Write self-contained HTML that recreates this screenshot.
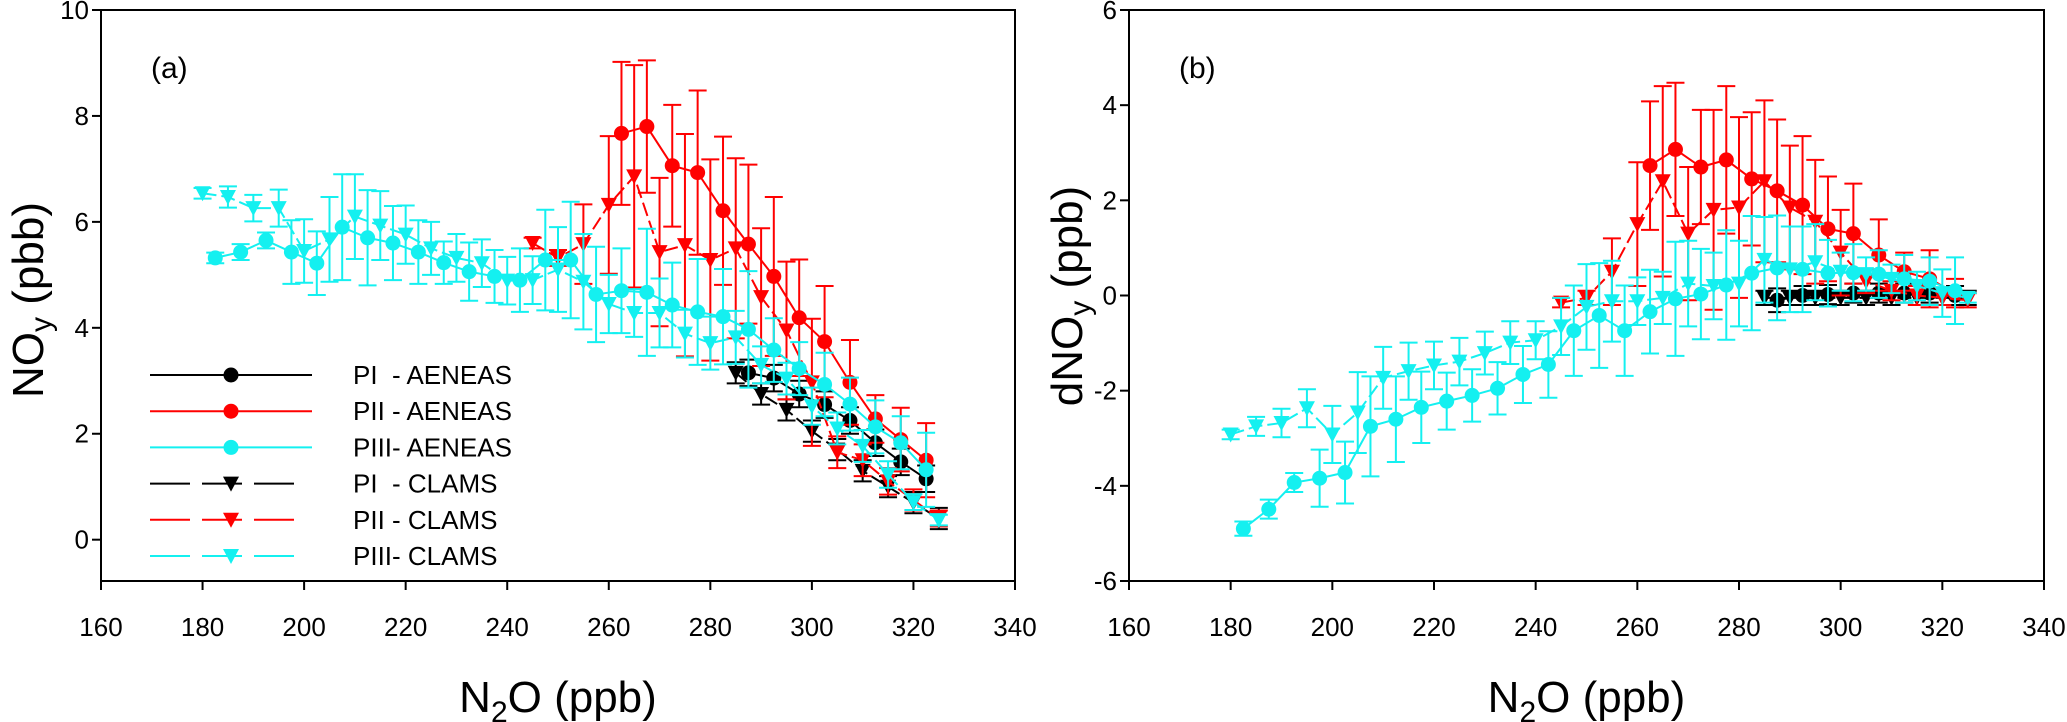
<!DOCTYPE html>
<html><head><meta charset="utf-8"><style>
html,body{margin:0;padding:0;background:#fff;}
svg{display:block;font-family:"Liberation Sans",Arial,sans-serif;}
</style></head><body>
<svg id="chart" width="2067" height="722" viewBox="0 0 2067 722" xmlns="http://www.w3.org/2000/svg"></svg>
<script>
// ---------- data ----------
const xTicks=[160,180,200,220,240,260,280,300,320,340];
const yTicksA=[0,2,4,6,8,10];
const yTicksB=[-6,-4,-2,0,2,4,6];
// panel a
const a_p3a_x=[182.5,187.5,192.5,197.5,202.5,207.5,212.5,217.5,222.5,227.5,232.5,237.5,242.5,247.5,252.5,257.5,262.5,267.5,272.5,277.5,282.5,287.5,292.5,297.5,302.5,307.5,312.5,317.5,322.5];
const a_p3a_y=[5.32,5.43,5.65,5.43,5.22,5.9,5.7,5.6,5.43,5.23,5.06,4.97,4.9,5.28,5.28,4.63,4.7,4.67,4.43,4.3,4.21,3.97,3.58,3.23,2.93,2.56,2.13,1.83,1.32];
const a_p3a_e=[0.1,0.15,0.15,0.6,0.6,1.0,0.9,0.7,0.6,0.4,0.55,0.5,0.6,0.95,1.1,0.9,0.8,1.2,0.8,1.0,0.9,1.1,0.6,0.5,0.6,0.5,0.5,0.5,0.7];
const a_p3c_x=[180,185,190,195,200,205,210,215,220,225,230,235,240,245,250,255,260,265,270,275,280,285,290,295,300,305,310,315,320,325];
const a_p3c_y=[6.54,6.47,6.26,6.26,5.45,5.67,6.1,5.93,5.76,5.5,5.32,5.22,4.89,4.9,5.1,4.87,4.45,4.28,4.28,3.89,3.71,3.82,3.3,3.04,2.52,2.1,1.77,1.23,0.71,0.37];
const a_p3c_e=[0.1,0.2,0.25,0.35,0.6,0.8,0.8,0.65,0.55,0.5,0.45,0.45,0.45,0.45,0.8,0.9,0.55,0.45,0.65,0.45,0.5,0.5,0.35,0.3,0.35,0.3,0.3,0.25,0.15,0.1];
const a_p2a_x=[262.5,267.5,272.5,277.5,282.5,287.5,292.5,297.5,302.5,307.5,312.5,317.5,322.5];
const a_p2a_y=[7.67,7.8,7.06,6.93,6.21,5.58,4.97,4.19,3.74,2.97,2.28,1.89,1.5];
const a_p2a_e=[1.35,1.25,1.15,1.55,1.4,1.5,1.5,1.1,1.05,0.8,0.45,0.6,0.7];
const a_p2c_x=[245,250,255,260,265,270,275,280,285,290,295,300,305,310,315,320,325];
const a_p2c_y=[5.6,5.32,5.58,6.32,6.86,5.43,5.56,5.28,5.5,4.58,3.95,2.97,1.65,1.5,1.1,0.75,0.4];
const a_p2c_e=[0.1,0.15,0.75,1.3,2.1,1.4,2.1,1.9,1.7,1.3,1.3,1.2,0.3,0.3,0.25,0.2,0.15];
const a_p1a_x=[287.5,292.5,297.5,302.5,307.5,312.5,317.5,322.5];
const a_p1a_y=[3.15,3.05,2.75,2.55,2.25,1.83,1.47,1.15];
const a_p1a_e=[0.25,0.25,0.25,0.25,0.25,0.25,0.25,0.25];
const a_p1c_x=[285,290,295,300,305,310,315,320,325];
const a_p1c_y=[3.15,2.75,2.45,2.05,1.7,1.3,1.0,0.7,0.4];
const a_p1c_e=[0.2,0.2,0.2,0.2,0.2,0.2,0.2,0.2,0.2];
// panel b
const b_p3a_x=a_p3a_x;
const b_p3a_y=[-4.9,-4.49,-3.93,-3.84,-3.72,-2.75,-2.6,-2.35,-2.22,-2.1,-1.95,-1.66,-1.45,-0.74,-0.42,-0.74,-0.34,-0.07,0.03,0.22,0.47,0.58,0.55,0.47,0.48,0.45,0.35,0.3,0.1];
const b_p3a_e=[0.15,0.2,0.2,0.6,0.65,1.05,0.9,0.75,0.6,0.55,0.55,0.6,0.7,0.95,1.1,0.95,0.88,1.2,0.95,1.15,1.2,1.1,0.9,0.7,0.6,0.5,0.5,0.5,0.7];
const b_p3c_x=a_p3c_x;
const b_p3c_y=[-2.92,-2.75,-2.68,-2.37,-2.92,-2.46,-1.73,-1.59,-1.47,-1.39,-1.21,-0.99,-0.94,-0.65,-0.24,-0.12,-0.12,-0.05,0.25,0.2,0.25,0.75,0.55,0.7,0.5,0.45,0.35,0.2,0.05,-0.05];
const b_p3c_e=[0.1,0.2,0.3,0.4,0.6,0.85,0.65,0.6,0.5,0.5,0.45,0.45,0.4,0.6,0.9,0.85,0.5,0.55,0.9,0.7,0.9,0.9,0.9,0.8,0.4,0.35,0.3,0.3,0.5,0.1];
const b_p2a_x=a_p2a_x;
const b_p2a_y=[2.73,3.07,2.7,2.85,2.45,2.2,1.9,1.4,1.3,0.85,0.5,0.35,0.05];
const b_p2a_e=[1.35,1.4,1.2,1.55,1.4,1.5,1.45,1.1,1.05,0.75,0.4,0.6,0.3];
const b_p2c_x=a_p2c_x;
const b_p2c_y=[-0.15,-0.05,0.5,1.5,2.4,1.3,1.8,1.85,2.4,1.85,1.55,0.9,0.3,0.1,0.0,-0.05,-0.1];
const b_p2c_e=[0.1,0.15,0.7,1.3,2.0,1.4,2.1,1.9,1.7,1.3,1.3,0.9,0.25,0.2,0.2,0.15,0.15];
const b_p1a_x=a_p1a_x;
const b_p1a_y=[-0.1,0.0,0.02,0.05,0.05,0.05,0.05,0.0];
const b_p1a_e=[0.25,0.2,0.2,0.2,0.2,0.2,0.2,0.2];
const b_p1c_x=a_p1c_x;
const b_p1c_y=[-0.05,-0.05,-0.05,-0.05,-0.05,-0.05,-0.05,-0.05,-0.05];
const b_p1c_e=[0.15,0.15,0.15,0.15,0.15,0.15,0.15,0.15,0.15];

const legendLabels=["PI  - AENEAS","PII - AENEAS","PIII- AENEAS","PI  - CLAMS","PII - CLAMS","PIII- CLAMS"];
const CY="#14f0f0", RD="#ff0000", BK="#000000";

const NS="http://www.w3.org/2000/svg";
const svg=document.getElementById('chart');
function mk(tag,attrs,parent){const e=document.createElementNS(NS,tag);for(const k in attrs)e.setAttribute(k,attrs[k]);(parent||svg).appendChild(e);return e;}

function panel(cfg){
  const g=mk('g',{});
  
  
  const L=cfg.left,R=cfg.right,T=10,B=581;
  const sx=v=>L+(v-160)/(340-160)*(R-L);
  const sy=v=>T+(cfg.ymax-v)/(cfg.ymax-cfg.ymin)*(B-T);
  const frame=mk('rect',{x:L,y:T,width:R-L,height:B-T,fill:'none',stroke:'#000','stroke-width':2},g);
  
  
  xTicks.forEach(t=>{
    mk('line',{x1:sx(t),x2:sx(t),y1:B,y2:B+9,stroke:'#000','stroke-width':2},g);
    const tx=mk('text',{x:sx(t),y:636,'font-size':26,'text-anchor':'middle'},g);
    tx.textContent=t;
    
    
  });
  cfg.yticks.forEach(t=>{
    mk('line',{x1:L-9,x2:L,y1:sy(t),y2:sy(t),stroke:'#000','stroke-width':2},g);
    const tx=mk('text',{x:L-12,y:sy(t)+9,'font-size':26,'text-anchor':'end'},g);
    tx.textContent=t;
    
    
  });
  const xt=mk('text',{x:(L+R)/2,y:712,'font-size':44,'text-anchor':'middle'},g);
  xt.innerHTML='N<tspan font-size="30" dy="10">2</tspan><tspan dy="-10">O (ppb)</tspan>';
  
  
  const yt=mk('text',{transform:`translate(${cfg.ytx},${cfg.yty}) rotate(-90)`,'font-size':44,'text-anchor':'middle'},g);
  yt.innerHTML=cfg.ytitle;
  
  
  const pl=mk('text',{x:L+50,y:78,'font-size':30},g);
  pl.textContent=cfg.label;
  
  
  cfg.series.forEach(s=>{
    const sg=mk('g',{},g);
    
    
    const pts=s.x.map((v,i)=>sx(v)+','+sy(s.y[i])).join(' ');
    mk('polyline',{points:pts,fill:'none',stroke:s.c,'stroke-width':2,'stroke-dasharray':s.tri?'14,5':'none'},sg);
    s.x.forEach((v,i)=>{
      const X=sx(v),y1=sy(s.y[i]+s.e[i]),y2=sy(s.y[i]-s.e[i]);
      const eb=mk('path',{d:`M${X},${y1}V${y2}M${X-9},${y1}H${X+9}M${X-9},${y2}H${X+9}`,stroke:s.c,'stroke-width':2,fill:'none'},sg);
      
      
      const Y=sy(s.y[i]);
      let m;
      if(s.tri) m=mk('path',{d:`M${X-8},${Y-7}H${X+8}L${X},${Y+8}Z`,fill:s.c},sg);
      else m=mk('circle',{cx:X,cy:Y,r:7.5,fill:s.c},sg);
      
      
    });
  });
}

const A={p1a_x:a_p1a_x,p1a_y:a_p1a_y,p1a_e:a_p1a_e,p1c_x:a_p1c_x,p1c_y:a_p1c_y,p1c_e:a_p1c_e,p2a_x:a_p2a_x,p2a_y:a_p2a_y,p2a_e:a_p2a_e,p2c_x:a_p2c_x,p2c_y:a_p2c_y,p2c_e:a_p2c_e,p3a_x:a_p3a_x,p3a_y:a_p3a_y,p3a_e:a_p3a_e,p3c_x:a_p3c_x,p3c_y:a_p3c_y,p3c_e:a_p3c_e};
const Bd={p1a_x:b_p1a_x,p1a_y:b_p1a_y,p1a_e:b_p1a_e,p1c_x:b_p1c_x,p1c_y:b_p1c_y,p1c_e:b_p1c_e,p2a_x:b_p2a_x,p2a_y:b_p2a_y,p2a_e:b_p2a_e,p2c_x:b_p2c_x,p2c_y:b_p2c_y,p2c_e:b_p2c_e,p3a_x:b_p3a_x,p3a_y:b_p3a_y,p3a_e:b_p3a_e,p3c_x:b_p3c_x,p3c_y:b_p3c_y,p3c_e:b_p3c_e};
function build(d){
  return [
    {name:'pi-aeneas',x:d.p1a_x,y:d.p1a_y,e:d.p1a_e,c:BK,tri:false},
    {name:'pi-clams',x:d.p1c_x,y:d.p1c_y,e:d.p1c_e,c:BK,tri:true},
    {name:'pii-aeneas',x:d.p2a_x,y:d.p2a_y,e:d.p2a_e,c:RD,tri:false},
    {name:'pii-clams',x:d.p2c_x,y:d.p2c_y,e:d.p2c_e,c:RD,tri:true},
    {name:'piii-clams',x:d.p3c_x,y:d.p3c_y,e:d.p3c_e,c:CY,tri:true},
    {name:'piii-aeneas',x:d.p3a_x,y:d.p3a_y,e:d.p3a_e,c:CY,tri:false},
  ];
}
panel({name:'panel-a',left:101,right:1015,ymin:-0.78,ymax:10,yticks:yTicksA,label:'(a)',
  ytitle:'NO<tspan font-size="30" dy="8">y</tspan><tspan dy="-8"> (pbb)</tspan>',ytx:43,yty:300,series:build(A)});
panel({name:'panel-b',left:1129,right:2044,ymin:-6,ymax:6,yticks:yTicksB,label:'(b)',
  ytitle:'dNO<tspan font-size="30" dy="8">y</tspan><tspan dy="-8"> (ppb)</tspan>',ytx:1082,yty:296,series:build(Bd)});

// legend
const lg=mk('g',{});


const lcol=[BK,RD,CY,BK,RD,CY];
legendLabels.forEach((t,i)=>{
  const y=375+i*36.2, tri=i>=3;
  const eg=mk('g',{},lg);
  
  
  mk('line',{x1:150,x2:tri?298:312,y1:y,y2:y,stroke:lcol[i],'stroke-width':2,'stroke-dasharray':tri?'40,12':'none'},eg);
  if(tri) mk('path',{d:`M${223},${y-7}H${239}L${231},${y+8}Z`,fill:lcol[i]},eg);
  else mk('circle',{cx:231,cy:y,r:7.5,fill:lcol[i]},eg);
  const tx=mk('text',{x:353,y:y+9,'font-size':26},eg);
  tx.textContent=t;
  tx.style.whiteSpace='pre';
});
</script>
</body></html>
